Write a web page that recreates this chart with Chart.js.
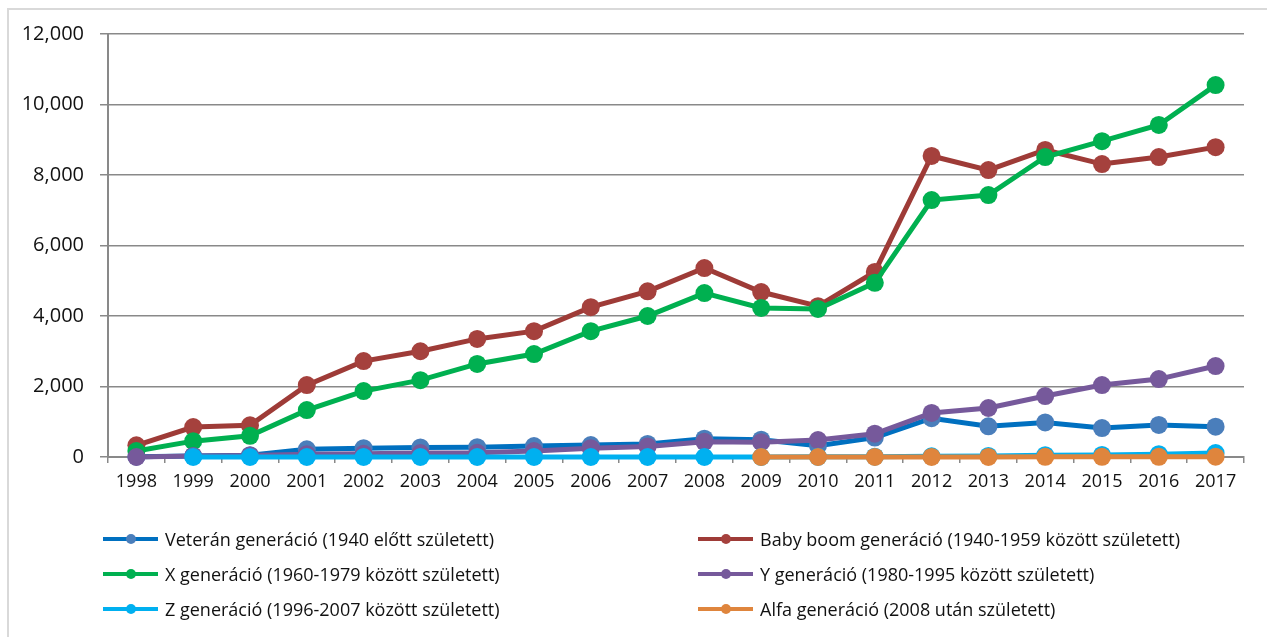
<!DOCTYPE html>
<html>
<head>
<meta charset="utf-8">
<script src="https://cdn.jsdelivr.net/npm/chart.js@4"></script>
<style>
  body { margin: 0; background: #fff; font-family: "Open Sans", sans-serif; }
  #wrap { position: relative; width: 1267px; height: 637px; overflow: hidden; }
  #keret { position: absolute; left: 7px; top: 8px; width: 1280px; height: 650px; border: 2px solid #d9d9d9; box-sizing: border-box; }
  #grafikon { position: absolute; left: 0; top: 0; }
  .jel { position: absolute; height: 22px; display: flex; align-items: center; font-size: 18px; color: #111; white-space: nowrap; }
  .vonal { position: relative; width: 55px; height: 4px; margin-right: 7px; }
  .pont { position: absolute; left: 23px; top: -3px; width: 10px; height: 10px; border-radius: 50%; }
</style>
</head>
<body>
<div id="wrap">
  <div id="keret"></div>
  <canvas id="grafikon" width="1267" height="637"></canvas>
  <div id="jelmagyarazat"></div>
</div>
<script>
// ---------------- adatok ----------------
const evek = ["1998", "1999", "2000", "2001", "2002", "2003", "2004", "2005", "2006", "2007",
  "2008", "2009", "2010", "2011", "2012", "2013", "2014", "2015", "2016", "2017"];

const veteran = [10, 30, 50, 220, 250, 270, 280, 310, 340, 370,
  520, 490, 320, 550, 1100, 870, 980, 820, 910, 860];

const babyBoom = [330, 850, 900, 2040, 2720, 3000, 3350, 3570, 4250, 4700,
  5360, 4680, 4280, 5250, 8540, 8140, 8710, 8310, 8510, 8790];

const xGen = [170, 450, 600, 1330, 1870, 2180, 2640, 2920, 3570, 4000,
  4650, 4230, 4200, 4940, 7290, 7430, 8510, 8960, 9420, 10550];

const yGen = [0, 30, 40, 80, 90, 110, 120, 170, 250, 300,
  430, 420, 480, 660, 1250, 1390, 1730, 2040, 2210, 2580];

const zGen = [null, 0, 0, 0, 0, 0, 0, 0, 0, 0,
  0, 0, 5, 10, 20, 30, 50, 60, 80, 110];

const alfa = [null, null, null, null, null, null, null, null, null, null,
  null, 0, 0, 1, 2, 3, 4, 5, 6, 8];

const yTickek = [0, 2000, 4000, 6000, 8000, 10000, 12000];

// ---------------- sorozatok ----------------
const sorozatok = [
  { nev: "Veterán generáció (1940 előtt született)", adat: veteran, vonal: "#0070c0", pont: "#4a7ebb" },
  { nev: "Baby boom generáció (1940-1959 között született)", adat: babyBoom, vonal: "#9e3b37", pont: "#a5413d" },
  { nev: "X generáció (1960-1979 között született)", adat: xGen, vonal: "#00b050", pont: "#00b050" },
  { nev: "Y generáció (1980-1995 között született)", adat: yGen, vonal: "#76599b", pont: "#76599b" },
  { nev: "Z generáció (1996-2007 között született)", adat: zGen, vonal: "#00b0f0", pont: "#00b0f0" },
  { nev: "Alfa generáció (2008 után született)", adat: alfa, vonal: "#df853d", pont: "#df853d" },
];

const datasets = sorozatok.map((s, i) => ({
  label: s.nev,
  data: s.adat,
  borderColor: s.vonal,
  backgroundColor: s.pont,
  pointBackgroundColor: s.pont,
  pointBorderColor: s.pont,
  borderWidth: 5,
  pointRadius: 9,
  pointBorderWidth: 0,
  tension: 0,
  spanGaps: false,
  clip: false,
  order: sorozatok.length - i, // az utolso sorozat legyen felul, mint Excelben
}));

// ---------------- grafikon ----------------
const ctx = document.getElementById("grafikon").getContext("2d");
const grafikon = new Chart(ctx, {
  type: "line",
  data: { labels: evek, datasets: datasets },
  options: {
    responsive: false,
    animation: false,
    layout: { padding: { top: 34, right: 23, bottom: 145, left: 0 } },
    plugins: { legend: { display: false }, tooltip: { enabled: false } },
    scales: {
      x: {
        offset: true,
        grid: { offset: true, drawOnChartArea: false, tickLength: 6, color: "#898989", lineWidth: 1.5 },
        border: { color: "#898989", width: 2 },
        ticks: { color: "#111", font: { family: "Open Sans", size: 18 }, padding: 8, maxRotation: 0, autoSkip: false },
        afterFit: (scale) => { scale.height = 35; },
      },
      y: {
        min: 0,
        max: 12000,
        afterBuildTicks: (scale) => { scale.ticks = yTickek.map((v) => ({ value: v })); },
        grid: { color: "#898989", lineWidth: 1.5, tickLength: 8 },
        border: { color: "#898989", width: 2 },
        ticks: {
          color: "#111",
          font: { family: "Open Sans", size: 20 },
          padding: 16,
          callback: (v) => v.toLocaleString("en-US"),
        },
        afterFit: (scale) => { scale.width = 108; },
      },
    },
  },
});

// ---------------- jelmagyarazat (ket oszlop, mint az eredetin) ----------------
const jm = document.getElementById("jelmagyarazat");
const oszlopX = [103, 698];
const sorY = [528, 563, 598];
sorozatok.forEach((s, i) => {
  const el = document.createElement("div");
  el.className = "jel";
  el.style.left = oszlopX[i % 2] + "px";
  el.style.top = sorY[Math.floor(i / 2)] + "px";
  el.innerHTML = '<div class="vonal" style="background:' + s.vonal + '"><div class="pont" style="background:' + s.pont + '"></div></div>';
  const t = document.createElement("span");
  t.textContent = s.nev;
  el.appendChild(t);
  jm.appendChild(el);
});
</script>
</body>
</html>
